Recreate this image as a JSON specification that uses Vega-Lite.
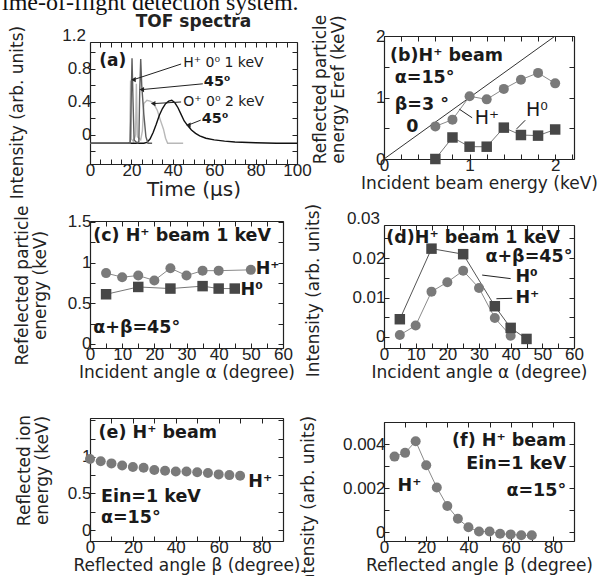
{
"$schema": "https://vega.github.io/schema/vega-lite/v6.json",
"background": "white",
"padding": {"left": 2, "top": -9, "right": 0, "bottom": 0},
"title": {"text": "ime-of-flight detection system.", "anchor": "start", "font": "Liberation Serif", "fontSize": 24, "fontWeight": "normal", "color": "#111", "offset": -2, "dx": -6},
"config": {
  "font": "DejaVu Sans",
  "view": {"stroke": null},
  "axis": {"domain": true, "domainColor": "#222", "domainWidth": 1.2, "grid": false, "tickSize": -5, "tickColor": "#222", "tickWidth": 1, "labelFont": "Liberation Sans", "labelFontSize": 17, "labelColor": "#222", "labelPadding": 4, "labelFlush": false, "labelOverlap": false, "labelBound": false, "titleFont": "DejaVu Sans", "titleFontSize": 17, "titleFontWeight": "normal", "titleColor": "#222", "titlePadding": 2, "titleLineHeight": 18},
  "axisBottom": {"labelPadding": 3},
  "title": {"font": "DejaVu Sans", "fontSize": 17, "fontWeight": "bold", "color": "#222"},
  "text": {"font": "DejaVu Sans", "fontSize": 17.5, "fontWeight": "bold", "color": "#1a1a1a", "align": "left", "baseline": "middle"},
  "point": {"filled": true, "opacity": 1}
},
"datasets": {
  "tof": [
    {"x": 18.5, "y": -0.1, "s": "o0"}, {"x": 19.2, "y": -0.09, "s": "o0"}, {"x": 19.6, "y": 0.66, "s": "o0"}, {"x": 20.0, "y": -0.05, "s": "o0"}, {"x": 21.0, "y": -0.08, "s": "o0"}, {"x": 22.0, "y": 0.0, "s": "o0"}, {"x": 22.4, "y": 0.62, "s": "o0"}, {"x": 22.9, "y": -0.02, "s": "o0"}, {"x": 24.5, "y": -0.06, "s": "o0"}, {"x": 25.3, "y": 0.05, "s": "o0"}, {"x": 26.0, "y": 0.38, "s": "o0"}, {"x": 27.5, "y": 0.42, "s": "o0"}, {"x": 29.0, "y": 0.41, "s": "o0"}, {"x": 30.5, "y": 0.39, "s": "o0"}, {"x": 32.5, "y": 0.3, "s": "o0"}, {"x": 34.0, "y": 0.18, "s": "o0"}, {"x": 35.5, "y": 0.07, "s": "o0"}, {"x": 36.5, "y": -0.04, "s": "o0"}, {"x": 37.5, "y": -0.1, "s": "o0"}, {"x": 45, "y": -0.1, "s": "o0"},
    {"x": 0, "y": -0.1, "s": "o45"}, {"x": 26, "y": -0.1, "s": "o45"}, {"x": 27.5, "y": -0.09, "s": "o45"}, {"x": 29, "y": -0.05, "s": "o45"}, {"x": 30.5, "y": 0.03, "s": "o45"}, {"x": 32, "y": 0.13, "s": "o45"}, {"x": 33.5, "y": 0.24, "s": "o45"}, {"x": 35, "y": 0.32, "s": "o45"}, {"x": 36.5, "y": 0.38, "s": "o45"}, {"x": 38, "y": 0.41, "s": "o45"}, {"x": 39.5, "y": 0.42, "s": "o45"}, {"x": 41, "y": 0.39, "s": "o45"}, {"x": 42.5, "y": 0.33, "s": "o45"}, {"x": 44, "y": 0.25, "s": "o45"}, {"x": 45.5, "y": 0.17, "s": "o45"}, {"x": 47, "y": 0.12, "s": "o45"}, {"x": 49, "y": 0.06, "s": "o45"}, {"x": 51, "y": 0.02, "s": "o45"}, {"x": 53, "y": -0.01, "s": "o45"}, {"x": 56, "y": -0.04, "s": "o45"}, {"x": 60, "y": -0.06, "s": "o45"}, {"x": 65, "y": -0.075, "s": "o45"}, {"x": 70, "y": -0.085, "s": "o45"}, {"x": 80, "y": -0.095, "s": "o45"}, {"x": 90, "y": -0.1, "s": "o45"}, {"x": 100, "y": -0.1, "s": "o45"},
    {"x": 0, "y": -0.1, "s": "h0"}, {"x": 19.4, "y": -0.1, "s": "h0"}, {"x": 19.8, "y": 0.3, "s": "h0"}, {"x": 20.3, "y": 0.93, "s": "h0"}, {"x": 20.8, "y": 0.4, "s": "h0"}, {"x": 21.3, "y": -0.06, "s": "h0"}, {"x": 22.5, "y": -0.09, "s": "h0"}, {"x": 23.5, "y": -0.1, "s": "h0"},
    {"x": 22.5, "y": -0.1, "s": "h45"}, {"x": 23.6, "y": -0.08, "s": "h45"}, {"x": 24.0, "y": 0.5, "s": "h45"}, {"x": 24.5, "y": 0.92, "s": "h45"}, {"x": 25.0, "y": 0.6, "s": "h45"}, {"x": 26.0, "y": 0.25, "s": "h45"}, {"x": 27.0, "y": -0.02, "s": "h45"}, {"x": 28.0, "y": -0.1, "s": "h45"}, {"x": 30, "y": -0.1, "s": "h45"}
  ],
  "a_lead": [{"x": 44, "y": 0.86, "x2": 21, "y2": 0.67}, {"x": 54.5, "y": 0.62, "x2": 25, "y2": 0.55}, {"x": 44, "y": 0.40, "x2": 30.5, "y2": 0.38}, {"x": 53.5, "y": 0.18, "x2": 47.5, "y2": 0.12}],
  "a_title": [{"x": 4.5, "y": 0.9, "label": "(a)"}],
  "a_bold": [{"x": 55, "y": 0.64, "label": "45⁰"}, {"x": 54, "y": 0.19, "label": "45⁰"}],
  "a_norm": [{"x": 45, "y": 0.875, "label": "H⁺ 0⁰ 1 keV"}, {"x": 45, "y": 0.40, "label": "O⁺ 0⁰ 2 keV"}],
  "a_tick": [{"x": 0, "y": 1.2, "label": "1.2"}],
  "diag": [{"x": 0, "y": 0}, {"x": 2.2, "y": 2.2}],
  "b_hp": [{"x": 0.6, "y": 0.53}, {"x": 0.8, "y": 0.64}, {"x": 1.0, "y": 1.02}, {"x": 1.2, "y": 0.97}, {"x": 1.4, "y": 1.14}, {"x": 1.6, "y": 1.29}, {"x": 1.8, "y": 1.40}, {"x": 2.0, "y": 1.23}],
  "b_h0": [{"x": 0.6, "y": 0.0}, {"x": 0.8, "y": 0.35}, {"x": 1.0, "y": 0.20}, {"x": 1.2, "y": 0.20}, {"x": 1.4, "y": 0.51}, {"x": 1.6, "y": 0.39}, {"x": 1.8, "y": 0.38}, {"x": 2.0, "y": 0.48}],
  "b_lead": [{"x": 1.03, "y": 0.67, "x2": 0.88, "y2": 0.81}, {"x": 1.65, "y": 0.63, "x2": 1.55, "y2": 0.49}],
  "b_bold": [{"x": 0.07, "y": 1.68, "label": "(b)H⁺ beam"}, {"x": 0.125, "y": 1.32, "label": "α=15°"}, {"x": 0.125, "y": 0.88, "label": "β=3  °"}, {"x": 0.26, "y": 0.52, "label": "0"}],
  "b_norm": [{"x": 1.06, "y": 0.67, "label": "H⁺"}, {"x": 1.66, "y": 0.79, "label": "H⁰"}],
  "c_hp": [{"x": 5, "y": 0.87}, {"x": 10, "y": 0.82}, {"x": 15, "y": 0.84}, {"x": 20, "y": 0.78}, {"x": 25, "y": 0.93}, {"x": 30, "y": 0.84}, {"x": 35, "y": 0.90}, {"x": 40, "y": 0.90}, {"x": 50, "y": 0.91}],
  "c_h0": [{"x": 5, "y": 0.61}, {"x": 15, "y": 0.70}, {"x": 25, "y": 0.68}, {"x": 35, "y": 0.71}, {"x": 40, "y": 0.68}, {"x": 45, "y": 0.68}],
  "c_bold": [{"x": 1, "y": 1.33, "label": "(c) H⁺ beam 1 keV"}, {"x": 1, "y": 0.19, "label": "α+β=45°"}, {"x": 51.5, "y": 0.92, "label": "H⁺"}, {"x": 46.8, "y": 0.66, "label": "H⁰"}],
  "d_h0": [{"x": 5, "y": 0.0045}, {"x": 15, "y": 0.0224}, {"x": 25, "y": 0.021}, {"x": 35, "y": 0.0078}, {"x": 40, "y": 0.0023}, {"x": 45, "y": -0.0005}],
  "d_hp": [{"x": 5, "y": 0.0005}, {"x": 10, "y": 0.0029}, {"x": 15, "y": 0.0115}, {"x": 20, "y": 0.0139}, {"x": 25, "y": 0.0168}, {"x": 30, "y": 0.0124}, {"x": 35, "y": 0.0048}, {"x": 40, "y": 0.0003}],
  "d_lead": [{"x": 40, "y": 0.0148, "x2": 31, "y2": 0.0157}, {"x": 40.5, "y": 0.0098, "x2": 35.5, "y2": 0.0097}],
  "d_bold": [{"x": 0.7, "y": 0.0252, "label": "(d)H⁺ beam 1 keV"}, {"x": 41.5, "y": 0.0151, "label": "H⁰"}, {"x": 41.5, "y": 0.0098, "label": "H⁺"}],
  "d_right": [{"x": 59.5, "y": 0.0203, "label": "α+β=45°"}],
  "d_tick": [{"x": 0, "y": 0.03, "label": "0.03"}],
  "e_hp": [{"x": 0, "y": 0.97}, {"x": 5, "y": 0.94}, {"x": 10, "y": 0.91}, {"x": 15, "y": 0.88}, {"x": 20, "y": 0.86}, {"x": 25, "y": 0.85}, {"x": 30, "y": 0.82}, {"x": 35, "y": 0.81}, {"x": 40, "y": 0.80}, {"x": 45, "y": 0.80}, {"x": 50, "y": 0.79}, {"x": 55, "y": 0.78}, {"x": 60, "y": 0.76}, {"x": 65, "y": 0.75}, {"x": 70, "y": 0.74}],
  "e_bold": [{"x": 4, "y": 1.33, "label": "(e) H⁺ beam"}, {"x": 73.8, "y": 0.66, "label": "H⁺"}, {"x": 5.1, "y": 0.45, "label": "Ein=1 keV"}, {"x": 5.1, "y": 0.17, "label": "α=15°"}],
  "f_hp": [{"x": 5, "y": 0.00343}, {"x": 10, "y": 0.0036}, {"x": 15, "y": 0.00413}, {"x": 20, "y": 0.00304}, {"x": 25, "y": 0.00203}, {"x": 30, "y": 0.00119}, {"x": 35, "y": 0.00061}, {"x": 40, "y": 0.00022}, {"x": 45, "y": 0.00003}, {"x": 50, "y": 0.00003}, {"x": 55, "y": -0.00007}, {"x": 60, "y": -0.0001}, {"x": 65, "y": -0.00014}, {"x": 70, "y": -0.00014}],
  "f_right": [{"x": 86.3, "y": 0.00415, "label": "(f)  H⁺ beam"}, {"x": 86.3, "y": 0.0031, "label": "Ein=1 keV"}, {"x": 86.3, "y": 0.00188, "label": "α=15°"}],
  "f_left": [{"x": 6.4, "y": 0.0021, "label": "H⁺"}]
},
"columns": 2,
"spacing": {"row": 57, "column": 87},
"bounds": "flush",
"concat": [
{
  "width": 207, "height": 128,
  "title": {"text": "TOF spectra", "anchor": "middle", "offset": -6},
  "layer": [
    {"data": {"name": "tof"}, "mark": {"type": "line", "strokeWidth": 1.4, "clip": true},
     "encoding": {
       "x": {"field": "x", "type": "quantitative", "scale": {"domain": [0, 100], "nice": false, "zero": false},
             "axis": {"title": "Time (μs)", "titleFontSize": 20, "titlePadding": 1, "values": [0,5,10,15,20,25,30,35,40,45,50,55,60,65,70,75,80,85,90,95,100], "labelExpr": "datum.value % 20 === 0 ? format(datum.value, '~g') : ''"}},
       "y": {"field": "y", "type": "quantitative", "scale": {"domain": [-0.352, 1.127], "range": [128, 6], "nice": false, "zero": false},
             "axis": {"title": "Intensity (arb. units)", "titleX": -64, "titleY": 76, "values": [-0.2,0,0.2,0.4,0.6,0.8,1], "labelExpr": "indexof([0,0.4,0.8], datum.value) >= 0 ? format(datum.value, '~g') : ''"}},
       "color": {"field": "s", "type": "nominal", "scale": {"domain": ["o0","o45","h0","h45"], "range": ["#b8b8b8","#111111","#5e5e5e","#5e5e5e"]}, "legend": null}
     }},
    {"data": {"name": "a_lead"}, "mark": {"type": "rule", "color": "#222", "strokeWidth": 1},
     "encoding": {"x": {"field": "x", "type": "quantitative", "axis": null}, "y": {"field": "y", "type": "quantitative", "axis": null}, "x2": {"field": "x2"}, "y2": {"field": "y2"}}},
    {"data": {"name": "a_lead"}, "mark": {"type": "point", "shape": "triangle-left", "size": 28, "filled": true, "color": "#222"},
     "encoding": {"x": {"field": "x2", "type": "quantitative", "axis": null}, "y": {"field": "y2", "type": "quantitative", "axis": null}}},
    {"data": {"name": "a_title"}, "mark": {"type": "text", "fontSize": 17},
     "encoding": {"x": {"field": "x", "type": "quantitative", "axis": null}, "y": {"field": "y", "type": "quantitative", "axis": null}, "text": {"field": "label"}}},
    {"data": {"name": "a_bold"}, "mark": {"type": "text", "fontSize": 14.5},
     "encoding": {"x": {"field": "x", "type": "quantitative", "axis": null}, "y": {"field": "y", "type": "quantitative", "axis": null}, "text": {"field": "label"}}},
    {"data": {"name": "a_norm"}, "mark": {"type": "text", "fontWeight": "normal", "fontSize": 14},
     "encoding": {"x": {"field": "x", "type": "quantitative", "axis": null}, "y": {"field": "y", "type": "quantitative", "axis": null}, "text": {"field": "label"}}},
    {"data": {"name": "a_tick"}, "mark": {"type": "text", "font": "Liberation Sans", "fontSize": 17, "fontWeight": "normal", "color": "#222", "align": "right", "dx": -4},
     "encoding": {"x": {"field": "x", "type": "quantitative", "axis": null}, "y": {"field": "y", "type": "quantitative", "axis": null}, "text": {"field": "label"}}},
    {"data": {"name": "a_norm"}, "mark": {"type": "point", "opacity": 0},
     "encoding": {"x": {"field": "x", "type": "quantitative", "axis": {"orient": "top", "offset": -6, "labels": false, "title": null, "values": [0,5,10,15,20,25,30,35,40,45,50,55,60,65,70,75,80,85,90,95,100]}},
                  "y": {"field": "y", "type": "quantitative", "axis": {"orient": "right", "labels": false, "title": null, "values": [-0.2,0,0.2,0.4,0.6,0.8,1]}}}}
  ],
  "resolve": {"axis": {"x": "independent", "y": "independent"}}
},
{
  "width": 190, "height": 128,
  "layer": [
    {"data": {"name": "diag"}, "mark": {"type": "line", "color": "#333", "strokeWidth": 1, "clip": true},
     "encoding": {
       "x": {"field": "x", "type": "quantitative", "scale": {"domain": [0, 2.22], "nice": false, "zero": false},
             "axis": {"title": "Incident beam energy (keV)", "offset": -5, "values": [0,0.2,0.4,0.6,0.8,1,1.2,1.4,1.6,1.8,2,2.2], "labelExpr": "indexof([0,1,2], datum.value) >= 0 ? format(datum.value, '~g') : ''"}},
       "y": {"field": "y", "type": "quantitative", "scale": {"domain": [0, 2], "range": [123, 0], "nice": false, "zero": false},
             "axis": {"title": ["Reflected particle", "energy Eref (keV)"], "titleX": -55, "titleY": 53, "values": [0,0.5,1,1.5,2], "labelExpr": "indexof([0,1,2], datum.value) >= 0 ? format(datum.value, '~g') : ''"}}
     }},
    {"data": {"name": "b_hp"}, "mark": {"type": "line", "color": "#8a8a8a", "strokeWidth": 1},
     "encoding": {"x": {"field": "x", "type": "quantitative", "axis": null}, "y": {"field": "y", "type": "quantitative", "axis": null}}},
    {"data": {"name": "b_hp"}, "mark": {"type": "point", "shape": "circle", "size": 100, "color": "#7a7a7a"},
     "encoding": {"x": {"field": "x", "type": "quantitative", "axis": null}, "y": {"field": "y", "type": "quantitative", "axis": null}}},
    {"data": {"name": "b_h0"}, "mark": {"type": "line", "color": "#777", "strokeWidth": 1},
     "encoding": {"x": {"field": "x", "type": "quantitative", "axis": null}, "y": {"field": "y", "type": "quantitative", "axis": null}}},
    {"data": {"name": "b_h0"}, "mark": {"type": "point", "shape": "square", "size": 110, "color": "#474747"},
     "encoding": {"x": {"field": "x", "type": "quantitative", "axis": null}, "y": {"field": "y", "type": "quantitative", "axis": null}}},
    {"data": {"name": "b_lead"}, "mark": {"type": "rule", "color": "#222", "strokeWidth": 1},
     "encoding": {"x": {"field": "x", "type": "quantitative", "axis": null}, "y": {"field": "y", "type": "quantitative", "axis": null}, "x2": {"field": "x2"}, "y2": {"field": "y2"}}},
    {"data": {"name": "b_bold"}, "mark": {"type": "text"},
     "encoding": {"x": {"field": "x", "type": "quantitative", "axis": null}, "y": {"field": "y", "type": "quantitative", "axis": null}, "text": {"field": "label"}}},
    {"data": {"name": "b_norm"}, "mark": {"type": "text", "fontWeight": "normal", "fontSize": 19},
     "encoding": {"x": {"field": "x", "type": "quantitative", "axis": null}, "y": {"field": "y", "type": "quantitative", "axis": null}, "text": {"field": "label"}}},
    {"data": {"name": "diag"}, "mark": {"type": "point", "opacity": 0},
     "encoding": {"x": {"field": "x", "type": "quantitative", "axis": {"orient": "top", "labels": false, "title": null, "values": [0,0.2,0.4,0.6,0.8,1,1.2,1.4,1.6,1.8,2,2.2]}},
                  "y": {"field": "y", "type": "quantitative", "axis": {"orient": "right", "labels": false, "title": null, "values": [0,0.5,1,1.5,2]}}}}
  ],
  "resolve": {"axis": {"x": "independent", "y": "independent"}}
},
{
  "width": 193, "height": 127,
  "layer": [
    {"data": {"name": "c_hp"}, "mark": {"type": "line", "color": "#8a8a8a", "strokeWidth": 1},
     "encoding": {
       "x": {"field": "x", "type": "quantitative", "scale": {"domain": [0, 60], "nice": false, "zero": false},
             "axis": {"title": "Incident angle α (degree)", "values": [0,5,10,15,20,25,30,35,40,45,50,55,60], "labelExpr": "datum.value % 10 === 0 ? format(datum.value, '~g') : ''"}},
       "y": {"field": "y", "type": "quantitative", "scale": {"domain": [-0.05, 1.51], "range": [127, 0], "nice": false, "zero": false},
             "axis": {"title": ["Refelected particle", "energy (keV)"], "titleX": -59, "titleY": 64, "values": [0,0.25,0.5,0.75,1,1.25,1.5], "labelExpr": "indexof([0,0.5,1,1.5], datum.value) >= 0 ? format(datum.value, '~g') : ''"}}
     }},
    {"data": {"name": "c_hp"}, "mark": {"type": "point", "shape": "circle", "size": 100, "color": "#7a7a7a"},
     "encoding": {"x": {"field": "x", "type": "quantitative", "axis": null}, "y": {"field": "y", "type": "quantitative", "axis": null}}},
    {"data": {"name": "c_h0"}, "mark": {"type": "line", "color": "#777", "strokeWidth": 1},
     "encoding": {"x": {"field": "x", "type": "quantitative", "axis": null}, "y": {"field": "y", "type": "quantitative", "axis": null}}},
    {"data": {"name": "c_h0"}, "mark": {"type": "point", "shape": "square", "size": 110, "color": "#474747"},
     "encoding": {"x": {"field": "x", "type": "quantitative", "axis": null}, "y": {"field": "y", "type": "quantitative", "axis": null}}},
    {"data": {"name": "c_bold"}, "mark": {"type": "text"},
     "encoding": {"x": {"field": "x", "type": "quantitative", "axis": null}, "y": {"field": "y", "type": "quantitative", "axis": null}, "text": {"field": "label"}}},
    {"data": {"name": "c_hp"}, "mark": {"type": "point", "opacity": 0},
     "encoding": {"x": {"field": "x", "type": "quantitative", "axis": {"orient": "top", "labels": false, "title": null, "values": [0,5,10,15,20,25,30,35,40,45,50,55,60]}},
                  "y": {"field": "y", "type": "quantitative", "axis": {"orient": "right", "labels": false, "title": null, "values": [0,0.25,0.5,0.75,1,1.25,1.5]}}}}
  ],
  "resolve": {"axis": {"x": "independent", "y": "independent"}}
},
{
  "width": 190, "height": 127,
  "layer": [
    {"data": {"name": "d_h0"}, "mark": {"type": "line", "color": "#555", "strokeWidth": 1},
     "encoding": {
       "x": {"field": "x", "type": "quantitative", "scale": {"domain": [0, 60], "nice": false, "zero": false},
             "axis": {"title": "Incident angle α (degree)", "values": [0,5,10,15,20,25,30,35,40,45,50,55,60], "labelExpr": "datum.value % 10 === 0 ? format(datum.value, '~g') : ''"}},
       "y": {"field": "y", "type": "quantitative", "scale": {"domain": [-0.0028, 0.0284], "range": [127, 4], "nice": false, "zero": false},
             "axis": {"title": "Intensity (arb. units)", "titleX": -62, "titleY": 69, "values": [0,0.005,0.01,0.015,0.02,0.025], "labelExpr": "indexof([0,0.01,0.02], datum.value) >= 0 ? format(datum.value, '~g') : ''"}}
     }},
    {"data": {"name": "d_hp"}, "mark": {"type": "line", "color": "#8a8a8a", "strokeWidth": 1},
     "encoding": {"x": {"field": "x", "type": "quantitative", "axis": null}, "y": {"field": "y", "type": "quantitative", "axis": null}}},
    {"data": {"name": "d_hp"}, "mark": {"type": "point", "shape": "circle", "size": 100, "color": "#7a7a7a"},
     "encoding": {"x": {"field": "x", "type": "quantitative", "axis": null}, "y": {"field": "y", "type": "quantitative", "axis": null}}},
    {"data": {"name": "d_h0"}, "mark": {"type": "point", "shape": "square", "size": 110, "color": "#474747"},
     "encoding": {"x": {"field": "x", "type": "quantitative", "axis": null}, "y": {"field": "y", "type": "quantitative", "axis": null}}},
    {"data": {"name": "d_lead"}, "mark": {"type": "rule", "color": "#222", "strokeWidth": 1},
     "encoding": {"x": {"field": "x", "type": "quantitative", "axis": null}, "y": {"field": "y", "type": "quantitative", "axis": null}, "x2": {"field": "x2"}, "y2": {"field": "y2"}}},
    {"data": {"name": "d_bold"}, "mark": {"type": "text"},
     "encoding": {"x": {"field": "x", "type": "quantitative", "axis": null}, "y": {"field": "y", "type": "quantitative", "axis": null}, "text": {"field": "label"}}},
    {"data": {"name": "d_right"}, "mark": {"type": "text", "align": "right"},
     "encoding": {"x": {"field": "x", "type": "quantitative", "axis": null}, "y": {"field": "y", "type": "quantitative", "axis": null}, "text": {"field": "label"}}},
    {"data": {"name": "d_tick"}, "mark": {"type": "text", "font": "Liberation Sans", "fontSize": 17, "fontWeight": "normal", "color": "#222", "align": "right", "dx": -4},
     "encoding": {"x": {"field": "x", "type": "quantitative", "axis": null}, "y": {"field": "y", "type": "quantitative", "axis": null}, "text": {"field": "label"}}},
    {"data": {"name": "d_hp"}, "mark": {"type": "point", "opacity": 0},
     "encoding": {"x": {"field": "x", "type": "quantitative", "axis": {"orient": "top", "offset": -4, "labels": false, "title": null, "values": [0,5,10,15,20,25,30,35,40,45,50,55,60]}},
                  "y": {"field": "y", "type": "quantitative", "axis": {"orient": "right", "labels": false, "title": null, "values": [0,0.005,0.01,0.015,0.02,0.025]}}}}
  ],
  "resolve": {"axis": {"x": "independent", "y": "independent"}}
},
{
  "width": 193, "height": 136,
  "layer": [
    {"data": {"name": "e_hp"}, "mark": {"type": "point", "shape": "circle", "size": 100, "color": "#7a7a7a"},
     "encoding": {
       "x": {"field": "x", "type": "quantitative", "scale": {"domain": [0, 90], "nice": false, "zero": false},
             "axis": {"title": "Reflected angle β (degree)", "values": [0,10,20,30,40,50,60,70,80,90], "labelExpr": "datum.value % 20 === 0 ? format(datum.value, '~g') : ''"}},
       "y": {"field": "y", "type": "quantitative", "scale": {"domain": [-0.15, 1.53], "range": [136, 13], "nice": false, "zero": false},
             "axis": {"title": ["Reflected ion", "energy (keV)"], "titleX": -57, "titleY": 65, "values": [0,0.25,0.5,0.75,1,1.25,1.5], "labelExpr": "indexof([0,0.5,1], datum.value) >= 0 ? format(datum.value, '~g') : ''"}}
     }},
    {"data": {"name": "e_bold"}, "mark": {"type": "text"},
     "encoding": {"x": {"field": "x", "type": "quantitative", "axis": null}, "y": {"field": "y", "type": "quantitative", "axis": null}, "text": {"field": "label"}}},
    {"data": {"name": "e_hp"}, "mark": {"type": "point", "opacity": 0},
     "encoding": {"x": {"field": "x", "type": "quantitative", "axis": {"orient": "top", "offset": -13, "labels": false, "title": null, "values": [0,10,20,30,40,50,60,70,80,90]}},
                  "y": {"field": "y", "type": "quantitative", "axis": {"orient": "right", "labels": false, "title": null, "values": [0,0.25,0.5,0.75,1,1.25,1.5]}}}}
  ],
  "resolve": {"axis": {"x": "independent", "y": "independent"}}
},
{
  "width": 190, "height": 136,
  "layer": [
    {"data": {"name": "f_hp"}, "mark": {"type": "line", "color": "#8a8a8a", "strokeWidth": 1},
     "encoding": {
       "x": {"field": "x", "type": "quantitative", "scale": {"domain": [0, 90], "nice": false, "zero": false},
             "axis": {"title": "Reflected angle β (degree)", "values": [0,10,20,30,40,50,60,70,80,90], "labelExpr": "datum.value % 20 === 0 ? format(datum.value, '~g') : ''"}},
       "y": {"field": "y", "type": "quantitative", "scale": {"domain": [-0.0004, 0.005], "range": [136, 17], "nice": false, "zero": false},
             "axis": {"title": "Intensity (arb. units)", "titleX": -67, "titleY": 97, "values": [0,0.001,0.002,0.003,0.004,0.005], "labelExpr": "indexof([0,0.002,0.004], datum.value) >= 0 ? format(datum.value, '~g') : ''"}}
     }},
    {"data": {"name": "f_hp"}, "mark": {"type": "point", "shape": "circle", "size": 100, "color": "#7a7a7a"},
     "encoding": {"x": {"field": "x", "type": "quantitative", "axis": null}, "y": {"field": "y", "type": "quantitative", "axis": null}}},
    {"data": {"name": "f_right"}, "mark": {"type": "text", "align": "right"},
     "encoding": {"x": {"field": "x", "type": "quantitative", "axis": null}, "y": {"field": "y", "type": "quantitative", "axis": null}, "text": {"field": "label"}}},
    {"data": {"name": "f_left"}, "mark": {"type": "text"},
     "encoding": {"x": {"field": "x", "type": "quantitative", "axis": null}, "y": {"field": "y", "type": "quantitative", "axis": null}, "text": {"field": "label"}}},
    {"data": {"name": "f_hp"}, "mark": {"type": "point", "opacity": 0},
     "encoding": {"x": {"field": "x", "type": "quantitative", "axis": {"orient": "top", "offset": -17, "labels": false, "title": null, "values": [0,10,20,30,40,50,60,70,80,90]}},
                  "y": {"field": "y", "type": "quantitative", "axis": {"orient": "right", "labels": false, "title": null, "values": [0,0.001,0.002,0.003,0.004,0.005]}}}}
  ],
  "resolve": {"axis": {"x": "independent", "y": "independent"}}
}
]
}
